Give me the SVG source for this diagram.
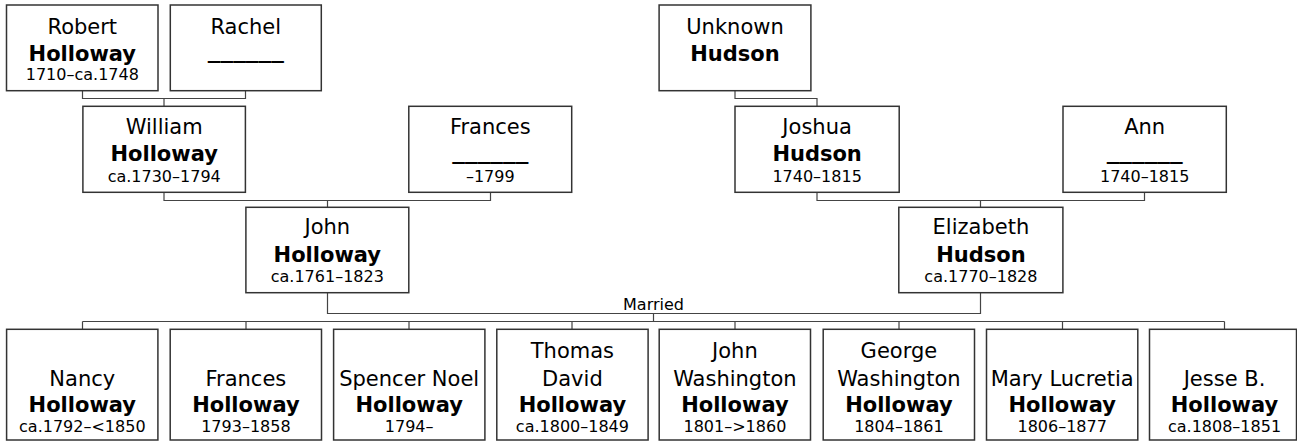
<svg xmlns="http://www.w3.org/2000/svg" width="1297" height="441" viewBox="0 0 1297 441">
<style>
.box{fill:#fff;stroke:#333;stroke-width:1.5}
.con{fill:none;stroke:#444;stroke-width:1.2}
text{font-family:"DejaVu Sans",Verdana,sans-serif;fill:#000;text-anchor:middle}
.n{font-size:21px}
.s{font-size:21px;font-weight:bold}
.d{font-size:16px}
.u{font-size:21px;font-weight:bold}
.lbl{font-size:16px}
</style>
<rect width="1297" height="441" fill="#fff"/>
<g id="connectors">
<path class="con" d="M82.5,90.7V98.5H245.5V90.7M164,98.5V106.3"/>
<path class="con" d="M164,192.3V200.5H490.5V192.3M327.5,200.5V207.3"/>
<path class="con" d="M735,90.7V98.5H817V106.3"/>
<path class="con" d="M817,192.3V200.5H1144.5V192.3M980.5,200.5V207.3"/>
<path class="con" d="M327.5,292.7V313.5H980.5V292.7M653.5,313.5V321.5"/>
<path class="con" d="M82.5,321.5H1224.5M82.5,321.5V329.3M246,321.5V329.3M409,321.5V329.3M572,321.5V329.3M735,321.5V329.3M899,321.5V329.3M1062.5,321.5V329.3M1224.5,321.5V329.3"/>
<text class="lbl" x="653.5" y="310">Married</text>
</g>
<g id="robert"><rect class="box" x="6.5" y="5" width="151.5" height="85.7"/><text class="n" x="82.3" y="34.3">Robert</text><text class="s" x="82.3" y="61">Holloway</text><text class="d" x="82.3" y="80">1710–ca.1748</text></g>
<g id="rachel"><rect class="box" x="170.3" y="5" width="151" height="85.7"/><text class="n" x="245.8" y="34.3">Rachel</text><text class="u" x="245.8" y="57.5" textLength="76" lengthAdjust="spacingAndGlyphs">______</text></g>
<g id="unknown"><rect class="box" x="659.1" y="5" width="151.8" height="85.7"/><text class="n" x="735" y="34.3">Unknown</text><text class="s" x="735" y="61">Hudson</text></g>
<g id="william"><rect class="box" x="82.9" y="106.3" width="162.5" height="86"/><text class="n" x="164.2" y="134.3">William</text><text class="s" x="164.2" y="161">Holloway</text><text class="d" x="164.2" y="181.7">ca.1730–1794</text></g>
<g id="frances_sr"><rect class="box" x="408.8" y="106.3" width="162.9" height="86"/><text class="n" x="490.3" y="134.3">Frances</text><text class="u" x="490.3" y="159" textLength="76" lengthAdjust="spacingAndGlyphs">______</text><text class="d" x="490.3" y="181.7">–1799</text></g>
<g id="joshua"><rect class="box" x="735" y="106.3" width="164.2" height="86"/><text class="n" x="817.1" y="134.3">Joshua</text><text class="s" x="817.1" y="161">Hudson</text><text class="d" x="817.1" y="181.7">1740–1815</text></g>
<g id="ann"><rect class="box" x="1063" y="106.3" width="163.3" height="86"/><text class="n" x="1144.7" y="134.3">Ann</text><text class="u" x="1144.7" y="159" textLength="76" lengthAdjust="spacingAndGlyphs">______</text><text class="d" x="1144.7" y="181.7">1740–1815</text></g>
<g id="john"><rect class="box" x="245.9" y="207.3" width="162.9" height="85.4"/><text class="n" x="327.3" y="234.3">John</text><text class="s" x="327.3" y="262.3">Holloway</text><text class="d" x="327.3" y="281.7">ca.1761–1823</text></g>
<g id="elizabeth"><rect class="box" x="898.8" y="207.3" width="164.1" height="85.4"/><text class="n" x="980.9" y="234.3">Elizabeth</text><text class="s" x="980.9" y="262.3">Hudson</text><text class="d" x="980.9" y="281.7">ca.1770–1828</text></g>
<g id="nancy"><rect class="box" x="6.6" y="329.3" width="151.3" height="110.7"/><text class="n" x="82.3" y="385.7">Nancy</text><text class="s" x="82.3" y="412.3">Holloway</text><text class="d" x="82.3" y="431.7">ca.1792–&lt;1850</text></g>
<g id="frances"><rect class="box" x="170.2" y="329.3" width="151.3" height="110.7"/><text class="n" x="245.9" y="385.7">Frances</text><text class="s" x="245.9" y="412.3">Holloway</text><text class="d" x="245.9" y="431.7">1793–1858</text></g>
<g id="spencer"><rect class="box" x="333.6" y="329.3" width="151.3" height="110.7"/><text class="n" x="409.2" y="385.7">Spencer Noel</text><text class="s" x="409.2" y="412.3">Holloway</text><text class="d" x="409.2" y="431.7">1794–</text></g>
<g id="thomas"><rect class="box" x="496.8" y="329.3" width="151.3" height="110.7"/><text class="n" x="572.4" y="358.3">Thomas</text><text class="n" x="572.4" y="385.7">David</text><text class="s" x="572.4" y="412.3">Holloway</text><text class="d" x="572.4" y="431.7">ca.1800–1849</text></g>
<g id="john_w"><rect class="box" x="659.2" y="329.3" width="151.3" height="110.7"/><text class="n" x="734.9" y="358.3">John</text><text class="n" x="734.9" y="385.7">Washington</text><text class="s" x="734.9" y="412.3">Holloway</text><text class="d" x="734.9" y="431.7">1801–&gt;1860</text></g>
<g id="george_w"><rect class="box" x="823.2" y="329.3" width="151.3" height="110.7"/><text class="n" x="898.9" y="358.3">George</text><text class="n" x="898.9" y="385.7">Washington</text><text class="s" x="898.9" y="412.3">Holloway</text><text class="d" x="898.9" y="431.7">1804–1861</text></g>
<g id="mary"><rect class="box" x="986.5" y="329.3" width="151.3" height="110.7"/><text class="n" x="1062.2" y="385.7">Mary Lucretia</text><text class="s" x="1062.2" y="412.3">Holloway</text><text class="d" x="1062.2" y="431.7">1806–1877</text></g>
<g id="jesse"><rect class="box" x="1149.5" y="329.3" width="147" height="110.7"/><text class="n" x="1224.5" y="385.7">Jesse B.</text><text class="s" x="1224.5" y="412.3">Holloway</text><text class="d" x="1224.5" y="431.7">ca.1808–1851</text></g>
</svg>
